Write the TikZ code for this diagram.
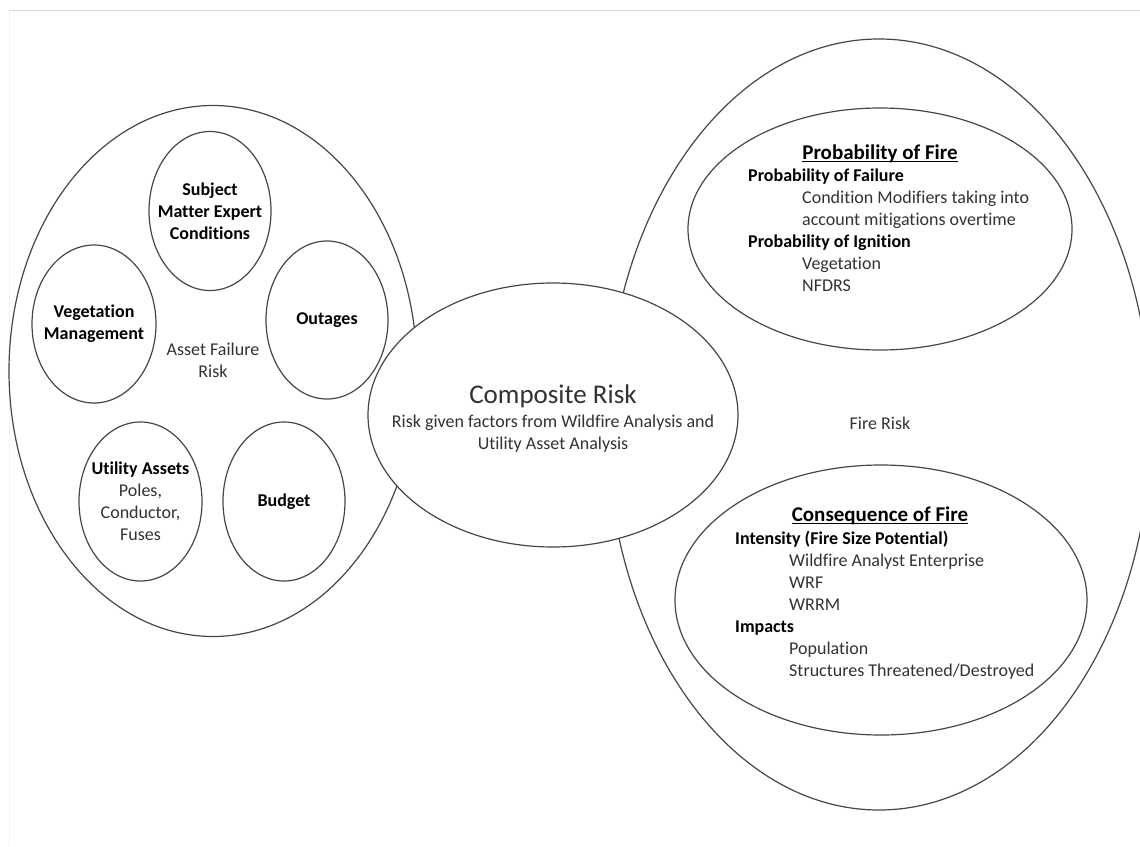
\documentclass[tikz,border=0pt]{standalone}
\usepackage{fontspec}
\setmainfont{Carlito}[Ligatures=NoCommon]
\usetikzlibrary{shapes.geometric}

\definecolor{randgrau}{RGB}{70,70,70}
\definecolor{textgrau}{RGB}{50,50,50}

\newcommand{\fett}[1]{\textcolor{black}{\textbf{#1}}}
\newcommand{\ein}{\hspace*{54pt}}

\begin{document}
\begin{tikzpicture}[x=1pt, y=-1pt,
  blase/.style={ellipse, draw=randgrau, line width=1.2pt, inner sep=0pt},
  txt/.style={inner sep=0pt, align=center, text=textgrau, font=\fontsize{18}{22}\selectfont},
  kopf/.style={txt, text=black, font=\fontsize{18}{22}\selectfont\bfseries},
  titel/.style={inner sep=0pt, text=black, font=\fontsize{21}{25}\selectfont\bfseries}]

  \useasboundingbox (0,0) rectangle (1140,846);

  % Rand vom Screenshot
  \draw[black!15, line width=1.5pt] (9,10.5) -- (1140,10.5);
  \draw[black!5, line width=1pt] (9.5,11.25) -- (9.5,846);

  % Asset Failure Risk (links)
  \node[blase, minimum width=408pt, minimum height=531pt] (asset) at (213,371) {};
  \node[txt] (assettxt) at (213,360) {Asset Failure\\Risk};
  \node[blase, minimum width=122pt, minimum height=159pt] (sme) at (210,211) {};
  \node[kopf] (smetxt) at (sme) {Subject\\Matter Expert\\Conditions};
  \node[blase, minimum width=124pt, minimum height=158pt] (veg) at (94,324) {};
  \node[kopf] (vegtxt) at (veg) {Vegetation\\Management};
  \node[blase, minimum width=122pt, minimum height=158pt] (outage) at (327,320) {};
  \node[kopf] (outagetxt) at (outage) {Outages};
  \node[blase, minimum width=123pt, minimum height=159pt] (util) at (140.5,501.5) {};
  \node[txt] (utiltxt) at (util) {\fett{Utility Assets}\\Poles,\\Conductor,\\Fuses};
  \node[blase, minimum width=122pt, minimum height=159pt] (budget) at (284,501.5) {};
  \node[kopf] (budgettxt) at (budget) {Budget};

  % Fire Risk (rechts)
  \node[blase, minimum width=544pt, minimum height=771pt] (fire) at (879,424.5) {};
  \node[txt] (firetxt) at (880,423) {Fire Risk};

  % Probability of Fire
  \node[blase, minimum width=384pt, minimum height=242pt] (prob) at (880,229) {};
  \node[titel, anchor=base] (probtitel) at (880,159) {Probability of Fire};
  \draw[black, line width=1.2pt] ([yshift=-2.5pt]probtitel.base west) -- ([yshift=-2.5pt]probtitel.base east);
  \node[txt, align=left, anchor=north west] (probtxt) at (748,168.5) {\fett{Probability of Failure}\\
    \ein Condition Modifiers taking into\\
    \ein account mitigations overtime\\
    \fett{Probability of Ignition}\\
    \ein Vegetation\\
    \ein NFDRS};

  % Consequence of Fire
  \node[blase, minimum width=412pt, minimum height=270pt] (cons) at (881,600) {};
  \node[titel, anchor=base] (constitel) at (880,521) {Consequence of Fire};
  \draw[black, line width=1.2pt] ([yshift=-2.5pt]constitel.base west) -- ([yshift=-2.5pt]constitel.base east);
  \node[txt, align=left, anchor=north west] (constxt) at (735,530.5) {\fett{Intensity (Fire Size Potential)}\\
    \ein Wildfire Analyst Enterprise\\
    \ein WRF\\
    \ein WRRM\\
    \fett{Impacts}\\
    \ein Population\\
    \ein Structures Threatened/Destroyed};

  % Composite Risk (Mitte, liegt oben drauf)
  \node[blase, fill=white, minimum width=370pt, minimum height=264pt] (comp) at (553,415) {};
  \node[inner sep=0pt, text=textgrau, font=\fontsize{27}{32}\selectfont, anchor=base] (comptitel) at (553,403) {Composite Risk};
  \node[txt, anchor=north] (comptxt) at (553,414.5) {Risk given factors from Wildfire Analysis and\\Utility Asset Analysis};

\end{tikzpicture}
\end{document}
